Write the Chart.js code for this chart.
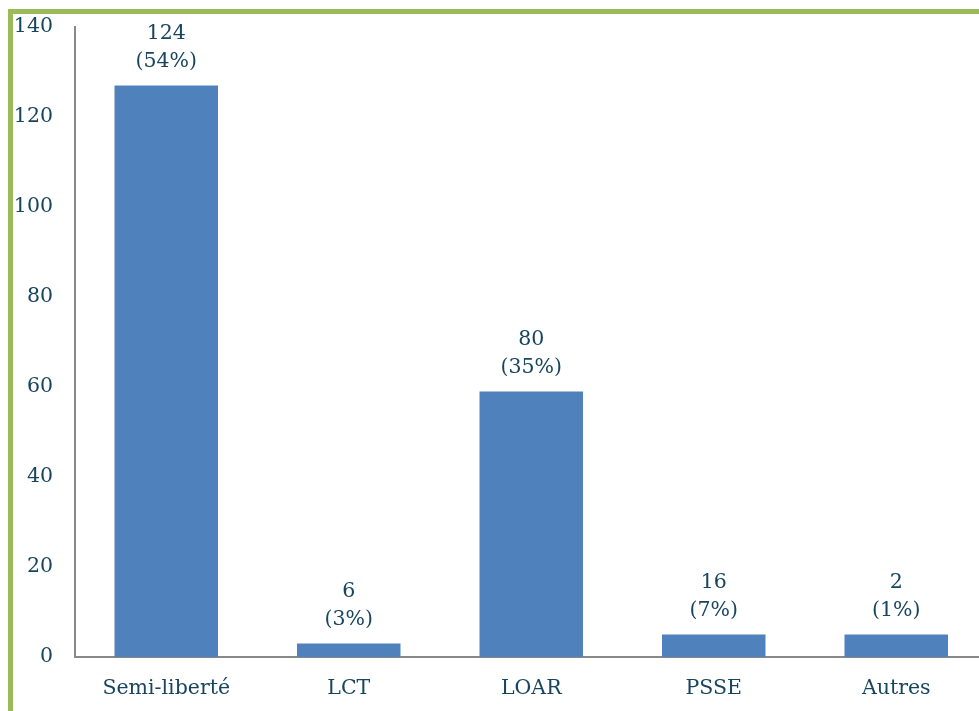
<!DOCTYPE html>
<html>
<head>
<meta charset="utf-8">
<script src="https://cdn.jsdelivr.net/npm/chart.js@4.4.0/dist/chart.umd.min.js"></script>
<style>
  html, body { margin: 0; padding: 0; background: #fff; overflow: hidden; }
  #wrap { position: relative; width: 1000px; height: 711px; }
  #rahmen { position: absolute; left: 8px; top: 9px; right: 0; bottom: 0; border-left: 5px solid #9BBB59; border-top: 5px solid #9BBB59; }
  canvas { position: absolute; left: 0; top: 0; }
</style>
</head>
<body>
<div id="wrap">
  <div id="rahmen"></div>
  <canvas id="chart" width="1000" height="711"></canvas>
</div>
<script>
// Kategorien und Werte (Balkenhöhen)
var kategorien = ['Semi-liberté', 'LCT', 'LOAR', 'PSSE', 'Autres'];
var balkenWerte = [127, 3, 59, 5, 5];
// Beschriftungen über den Balken
var anzahl = [124, 6, 80, 16, 2];
var prozente = ['54%', '3%', '35%', '7%', '1%'];
var yTicks = [0, 20, 40, 60, 80, 100, 120, 140];

var textFarbe = '#17455f';
var schrift = 'DejaVu Serif';

// Plugin für die zweizeiligen Beschriftungen
var beschriftungPlugin = {
  id: 'beschriftung',
  afterDatasetsDraw: function(chart) {
    var ctx = chart.ctx;
    var meta = chart.getDatasetMeta(0);
    ctx.save();
    ctx.fillStyle = textFarbe;
    ctx.font = '20.5px "' + schrift + '"';
    ctx.textAlign = 'center';
    ctx.textBaseline = 'middle';
    meta.data.forEach(function(bar, i) {
      ctx.fillText(String(anzahl[i]), bar.x, bar.y - 52);
      ctx.fillText('(' + prozente[i] + ')', bar.x, bar.y - 24);
    });
    ctx.restore();
  }
};

var ctx = document.getElementById('chart').getContext('2d');
var chart = new Chart(ctx, {
  type: 'bar',
  data: {
    labels: kategorien,
    datasets: [{
      data: balkenWerte,
      backgroundColor: '#4F81BD',
      categoryPercentage: 1,
      barPercentage: 0.567
    }]
  },
  options: {
    responsive: false,
    animation: false,
    layout: { padding: { top: 27, right: 12.5, left: 0, bottom: 0 } },
    plugins: {
      legend: { display: false },
      tooltip: { enabled: false }
    },
    scales: {
      x: {
        grid: { display: false, drawTicks: false },
        border: { display: true, color: '#888888', width: 2 },
        ticks: {
          color: textFarbe,
          font: { family: schrift, size: 20.5 },
          padding: 19,
          maxRotation: 0
        },
        afterFit: function(scale) {
          scale.height = 54;
          scale.paddingLeft = 0;
          scale.paddingRight = 0;
        }
      },
      y: {
        min: 0,
        max: 140,
        grid: { display: false, drawTicks: false },
        border: { display: true, color: '#888888', width: 2 },
        afterBuildTicks: function(scale) {
          scale.ticks = yTicks.map(function(v) { return { value: v }; });
        },
        ticks: {
          color: textFarbe,
          font: { family: schrift, size: 20.5 },
          padding: 22
        },
        afterFit: function(scale) {
          scale.width = 75;
          scale.paddingTop = 0;
          scale.paddingBottom = 0;
        }
      }
    }
  },
  plugins: [beschriftungPlugin]
});
</script>
</body>
</html>
